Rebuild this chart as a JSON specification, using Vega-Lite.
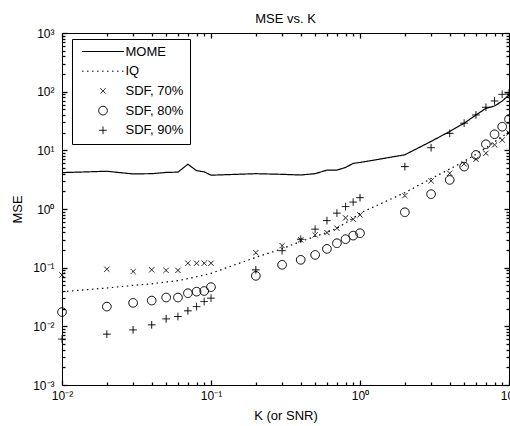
{
  "$schema": "https://vega.github.io/schema/vega-lite/v6.json",
  "width": 447,
  "height": 352,
  "autosize": {"type": "none"},
  "padding": {"left": 62, "top": 33, "right": 1, "bottom": 41},
  "background": "white",
  "title": {"text": "MSE vs. K", "fontSize": 13, "fontWeight": "normal", "font": "Liberation Sans", "color": "black", "offset": 1},
  "data": {"values": [
    {"K":0.01,"MSE":4.17,"series":"MOME"},{"K":0.02,"MSE":4.4,"series":"MOME"},{"K":0.03,"MSE":3.96,"series":"MOME"},{"K":0.04,"MSE":4.0,"series":"MOME"},{"K":0.05,"MSE":4.2,"series":"MOME"},{"K":0.06,"MSE":4.25,"series":"MOME"},{"K":0.07,"MSE":5.8,"series":"MOME"},{"K":0.08,"MSE":4.5,"series":"MOME"},{"K":0.09,"MSE":4.3,"series":"MOME"},{"K":0.1,"MSE":3.77,"series":"MOME"},
    {"K":0.2,"MSE":4.0,"series":"MOME"},{"K":0.3,"MSE":3.9,"series":"MOME"},{"K":0.4,"MSE":3.8,"series":"MOME"},{"K":0.5,"MSE":4.0,"series":"MOME"},{"K":0.6,"MSE":4.6,"series":"MOME"},{"K":0.7,"MSE":4.6,"series":"MOME"},{"K":0.8,"MSE":5.1,"series":"MOME"},{"K":0.9,"MSE":6.0,"series":"MOME"},{"K":1,"MSE":6.2,"series":"MOME"},
    {"K":2,"MSE":8.4,"series":"MOME"},{"K":3,"MSE":14.2,"series":"MOME"},{"K":4,"MSE":21,"series":"MOME"},{"K":5,"MSE":29,"series":"MOME"},{"K":6,"MSE":40,"series":"MOME"},{"K":7,"MSE":52,"series":"MOME"},{"K":8,"MSE":57,"series":"MOME"},{"K":9,"MSE":69,"series":"MOME"},{"K":10,"MSE":88,"series":"MOME"},

    {"K":0.01,"MSE":0.039,"series":"IQ"},{"K":0.02,"MSE":0.045,"series":"IQ"},{"K":0.03,"MSE":0.05,"series":"IQ"},{"K":0.04,"MSE":0.053,"series":"IQ"},{"K":0.05,"MSE":0.057,"series":"IQ"},{"K":0.06,"MSE":0.06,"series":"IQ"},{"K":0.07,"MSE":0.065,"series":"IQ"},{"K":0.08,"MSE":0.07,"series":"IQ"},{"K":0.09,"MSE":0.075,"series":"IQ"},{"K":0.1,"MSE":0.08,"series":"IQ"},
    {"K":0.2,"MSE":0.15,"series":"IQ"},{"K":0.3,"MSE":0.21,"series":"IQ"},{"K":0.4,"MSE":0.28,"series":"IQ"},{"K":0.5,"MSE":0.34,"series":"IQ"},{"K":0.6,"MSE":0.4,"series":"IQ"},{"K":0.7,"MSE":0.47,"series":"IQ"},{"K":0.8,"MSE":0.58,"series":"IQ"},{"K":0.9,"MSE":0.7,"series":"IQ"},{"K":1,"MSE":0.85,"series":"IQ"},
    {"K":2,"MSE":1.9,"series":"IQ"},{"K":3,"MSE":3.3,"series":"IQ"},{"K":4,"MSE":4.8,"series":"IQ"},{"K":5,"MSE":6.5,"series":"IQ"},{"K":6,"MSE":8.5,"series":"IQ"},{"K":7,"MSE":11,"series":"IQ"},{"K":8,"MSE":14,"series":"IQ"},{"K":9,"MSE":17,"series":"IQ"},{"K":10,"MSE":21,"series":"IQ"},

    {"K":0.01,"MSE":0.075,"series":"SDF, 70%"},{"K":0.02,"MSE":0.094,"series":"SDF, 70%"},{"K":0.03,"MSE":0.086,"series":"SDF, 70%"},{"K":0.04,"MSE":0.092,"series":"SDF, 70%"},{"K":0.05,"MSE":0.09,"series":"SDF, 70%"},{"K":0.06,"MSE":0.09,"series":"SDF, 70%"},{"K":0.07,"MSE":0.119,"series":"SDF, 70%"},{"K":0.08,"MSE":0.119,"series":"SDF, 70%"},{"K":0.09,"MSE":0.119,"series":"SDF, 70%"},{"K":0.1,"MSE":0.119,"series":"SDF, 70%"},
    {"K":0.2,"MSE":0.18,"series":"SDF, 70%"},{"K":0.3,"MSE":0.238,"series":"SDF, 70%"},{"K":0.4,"MSE":0.298,"series":"SDF, 70%"},{"K":0.5,"MSE":0.362,"series":"SDF, 70%"},{"K":0.6,"MSE":0.396,"series":"SDF, 70%"},{"K":0.7,"MSE":0.471,"series":"SDF, 70%"},{"K":0.8,"MSE":0.705,"series":"SDF, 70%"},{"K":0.9,"MSE":0.67,"series":"SDF, 70%"},{"K":1,"MSE":0.794,"series":"SDF, 70%"},
    {"K":2,"MSE":1.69,"series":"SDF, 70%"},{"K":3,"MSE":3.01,"series":"SDF, 70%"},{"K":4,"MSE":4.07,"series":"SDF, 70%"},{"K":5,"MSE":5.87,"series":"SDF, 70%"},{"K":6,"MSE":7.05,"series":"SDF, 70%"},{"K":7,"MSE":8.9,"series":"SDF, 70%"},{"K":8,"MSE":12.4,"series":"SDF, 70%"},{"K":9,"MSE":15.0,"series":"SDF, 70%"},{"K":10,"MSE":19.8,"series":"SDF, 70%"},

    {"K":0.01,"MSE":0.0175,"series":"SDF, 80%"},{"K":0.02,"MSE":0.0217,"series":"SDF, 80%"},{"K":0.03,"MSE":0.0251,"series":"SDF, 80%"},{"K":0.04,"MSE":0.0275,"series":"SDF, 80%"},{"K":0.05,"MSE":0.031,"series":"SDF, 80%"},{"K":0.06,"MSE":0.031,"series":"SDF, 80%"},{"K":0.07,"MSE":0.0367,"series":"SDF, 80%"},{"K":0.08,"MSE":0.039,"series":"SDF, 80%"},{"K":0.09,"MSE":0.04,"series":"SDF, 80%"},{"K":0.1,"MSE":0.0466,"series":"SDF, 80%"},
    {"K":0.2,"MSE":0.0725,"series":"SDF, 80%"},{"K":0.3,"MSE":0.112,"series":"SDF, 80%"},{"K":0.4,"MSE":0.136,"series":"SDF, 80%"},{"K":0.5,"MSE":0.165,"series":"SDF, 80%"},{"K":0.6,"MSE":0.209,"series":"SDF, 80%"},{"K":0.7,"MSE":0.261,"series":"SDF, 80%"},{"K":0.8,"MSE":0.306,"series":"SDF, 80%"},{"K":0.9,"MSE":0.352,"series":"SDF, 80%"},{"K":1,"MSE":0.387,"series":"SDF, 80%"},
    {"K":2,"MSE":0.88,"series":"SDF, 80%"},{"K":3,"MSE":1.79,"series":"SDF, 80%"},{"K":4,"MSE":3.13,"series":"SDF, 80%"},{"K":5,"MSE":5.28,"series":"SDF, 80%"},{"K":6,"MSE":8.35,"series":"SDF, 80%"},{"K":7,"MSE":12.7,"series":"SDF, 80%"},{"K":8,"MSE":18.8,"series":"SDF, 80%"},{"K":9,"MSE":25.3,"series":"SDF, 80%"},{"K":10,"MSE":33.9,"series":"SDF, 80%"},

    {"K":0.01,"MSE":0.00605,"series":"SDF, 90%"},{"K":0.02,"MSE":0.00736,"series":"SDF, 90%"},{"K":0.03,"MSE":0.0087,"series":"SDF, 90%"},{"K":0.04,"MSE":0.0106,"series":"SDF, 90%"},{"K":0.05,"MSE":0.0134,"series":"SDF, 90%"},{"K":0.06,"MSE":0.0147,"series":"SDF, 90%"},{"K":0.07,"MSE":0.0184,"series":"SDF, 90%"},{"K":0.08,"MSE":0.0217,"series":"SDF, 90%"},{"K":0.09,"MSE":0.0265,"series":"SDF, 90%"},{"K":0.1,"MSE":0.0302,"series":"SDF, 90%"},
    {"K":0.2,"MSE":0.0918,"series":"SDF, 90%"},{"K":0.3,"MSE":0.195,"series":"SDF, 90%"},{"K":0.4,"MSE":0.305,"series":"SDF, 90%"},{"K":0.5,"MSE":0.453,"series":"SDF, 90%"},{"K":0.6,"MSE":0.634,"series":"SDF, 90%"},{"K":0.7,"MSE":0.85,"series":"SDF, 90%"},{"K":0.8,"MSE":1.1,"series":"SDF, 90%"},{"K":0.9,"MSE":1.31,"series":"SDF, 90%"},{"K":1,"MSE":1.56,"series":"SDF, 90%"},
    {"K":2,"MSE":5.28,"series":"SDF, 90%"},{"K":3,"MSE":11.1,"series":"SDF, 90%"},{"K":4,"MSE":19.5,"series":"SDF, 90%"},{"K":5,"MSE":29.0,"series":"SDF, 90%"},{"K":6,"MSE":40.1,"series":"SDF, 90%"},{"K":7,"MSE":54.2,"series":"SDF, 90%"},{"K":8,"MSE":69.5,"series":"SDF, 90%"},{"K":9,"MSE":90,"series":"SDF, 90%"},{"K":10,"MSE":95,"series":"SDF, 90%"}
  ]},
  "config": {
    "view": {"stroke": null},
    "font": "Liberation Sans",
    "axis": {"grid": false, "domainColor": "black", "domainWidth": 1, "labelColor": "black", "titleColor": "black", "labelFontSize": 12, "titleFontSize": 13, "titleFontWeight": "normal", "labelOverlap": false, "labelFlush": false, "labelFont": "Liberation Sans", "titleFont": "Liberation Sans"},
    "legend": {"orient": "none", "legendX": 10, "legendY": 6, "padding": 6, "strokeColor": "black", "fillColor": "white", "symbolSize": 64, "symbolStrokeColor": "black", "symbolFillColor": "transparent", "symbolStrokeWidth": 1, "symbolOffset": 18.5, "labelOffset": 16, "labelFontSize": 13, "labelFont": "Liberation Sans", "labelColor": "black", "rowPadding": 5.7, "cornerRadius": 0, "title": null}
  },
  "resolve": {"axis": {"x": "independent", "y": "independent"}},
  "layer": [
    {
      "transform": [{"filter": "datum.series == 'MOME' || datum.series == 'IQ'"}],
      "mark": {"type": "line", "color": "black", "strokeWidth": 1.2},
      "encoding": {
        "x": {"field": "K", "type": "quantitative", "scale": {"type": "log", "domain": [0.01, 10], "nice": false},
          "axis": {"orient": "bottom", "title": "K (or SNR)", "titlePadding": 8, "ticks": false,
            "values": [0.01, 0.1, 1, 10],
            "labelExpr": "datum.value == 0.01 ? '10⁻²' : datum.value == 0.1 ? '10⁻¹' : datum.value == 1 ? '10⁰' : datum.value == 10 ? '10¹' : ''",
            "labelPadding": 5}},
        "y": {"field": "MSE", "type": "quantitative", "scale": {"type": "log", "domain": [0.001, 1000], "nice": false},
          "axis": {"orient": "left", "title": "MSE", "titlePadding": 8, "ticks": false,
            "values": [0.001, 0.01, 0.1, 1, 10, 100, 1000],
            "labelExpr": "datum.value == 0.001 ? '10⁻³' : datum.value == 0.01 ? '10⁻²' : datum.value == 0.1 ? '10⁻¹' : datum.value == 1 ? '10⁰' : datum.value == 10 ? '10¹' : datum.value == 100 ? '10²' : datum.value == 1000 ? '10³' : ''",
            "labelPadding": 8}},
        "strokeDash": {"field": "series", "type": "nominal",
          "scale": {"domain": ["MOME", "IQ", "SDF, 70%", "SDF, 80%", "SDF, 90%"], "range": [[1, 0], [1.5, 3.5], [1, 0], [1, 0], [1, 0]]},
          "legend": {"title": null}}
      }
    },
    {
      "transform": [{"filter": "indexof(datum.series, 'SDF') == 0"}],
      "mark": {"type": "point", "filled": false, "color": "black", "size": 64, "strokeWidth": 1, "opacity": 1},
      "encoding": {
        "x": {"field": "K", "type": "quantitative", "scale": {"type": "log", "domain": [0.01, 10], "nice": false},
          "axis": {"orient": "top", "title": null, "labels": false, "ticks": false, "values": [0.01, 0.1, 1, 10]}},
        "y": {"field": "MSE", "type": "quantitative", "scale": {"type": "log", "domain": [0.001, 1000], "nice": false},
          "axis": {"orient": "right", "title": null, "labels": false, "ticks": false, "values": [0.001, 0.01, 0.1, 1, 10, 100, 1000]}},
        "shape": {"field": "series", "type": "nominal",
          "scale": {"domain": ["MOME", "IQ", "SDF, 70%", "SDF, 80%", "SDF, 90%"],
            "range": ["M-5.25,0L5.25,0", "M-5.25,0L5.25,0", "M-0.65,-0.65L0.65,0.65M-0.65,0.65L0.65,-0.65", "M1.08,0A1.08,1.08,0,1,1,-1.08,0A1.08,1.08,0,1,1,1.08,0", "M-0.95,0L0.95,0M0,-0.95L0,0.95"]},
          "legend": {"title": null}},
        "strokeDash": {"field": "series", "type": "nominal",
          "scale": {"domain": ["MOME", "IQ", "SDF, 70%", "SDF, 80%", "SDF, 90%"], "range": [[1, 0], [1.5, 3.5], [1, 0], [1, 0], [1, 0]]},
          "legend": {"title": null}}
      }
    },
    {
      "mark": {"type": "point", "opacity": 0},
      "encoding": {
        "x": {"field": "K", "type": "quantitative", "scale": {"type": "log", "domain": [0.01, 10], "nice": false},
          "axis": {"orient": "bottom", "title": null, "labels": false, "domain": false, "ticks": true, "tickSize": 5, "offset": -5, "tickColor": "#000000", "tickWidth": 1.3,
            "values": [0.01, 0.1, 1, 10]}},
        "y": {"field": "MSE", "type": "quantitative", "scale": {"type": "log", "domain": [0.001, 1000], "nice": false},
          "axis": {"orient": "left", "title": null, "labels": false, "domain": false, "ticks": true, "tickSize": 5, "offset": -5, "tickColor": "#000000", "tickWidth": 1.3,
            "values": [0.001, 0.01, 0.1, 1, 10, 100, 1000]}}
      }
    },
    {
      "mark": {"type": "point", "opacity": 0},
      "encoding": {
        "x": {"field": "K", "type": "quantitative", "scale": {"type": "log", "domain": [0.01, 10], "nice": false},
          "axis": {"orient": "top", "title": null, "labels": false, "domain": false, "ticks": true, "tickSize": 5, "offset": -5, "tickColor": "#000000", "tickWidth": 1.3,
            "values": [0.01, 0.1, 1, 10]}},
        "y": {"field": "MSE", "type": "quantitative", "scale": {"type": "log", "domain": [0.001, 1000], "nice": false},
          "axis": {"orient": "right", "title": null, "labels": false, "domain": false, "ticks": true, "tickSize": 5, "offset": -5, "tickColor": "#000000", "tickWidth": 1.3,
            "values": [0.001, 0.01, 0.1, 1, 10, 100, 1000]}}
      }
    },
    {
      "mark": {"type": "point", "opacity": 0},
      "encoding": {
        "x": {"field": "K", "type": "quantitative", "scale": {"type": "log", "domain": [0.01, 10], "nice": false},
          "axis": {"orient": "bottom", "title": null, "labels": false, "domain": false, "ticks": true, "tickSize": 3, "offset": -3, "tickColor": "#000000", "tickWidth": 1.3,
            "values": [0.02,0.03,0.04,0.05,0.06,0.07,0.08,0.09,0.2,0.3,0.4,0.5,0.6,0.7,0.8,0.9,2,3,4,5,6,7,8,9]}},
        "y": {"field": "MSE", "type": "quantitative", "scale": {"type": "log", "domain": [0.001, 1000], "nice": false},
          "axis": {"orient": "left", "title": null, "labels": false, "domain": false, "ticks": true, "tickSize": 3, "offset": -3, "tickColor": "#000000", "tickWidth": 1.3,
            "values": [0.002,0.003,0.004,0.005,0.006,0.007,0.008,0.009,0.02,0.03,0.04,0.05,0.06,0.07,0.08,0.09,0.2,0.3,0.4,0.5,0.6,0.7,0.8,0.9,2,3,4,5,6,7,8,9,20,30,40,50,60,70,80,90,200,300,400,500,600,700,800,900]}}
      }
    },
    {
      "mark": {"type": "point", "opacity": 0},
      "encoding": {
        "x": {"field": "K", "type": "quantitative", "scale": {"type": "log", "domain": [0.01, 10], "nice": false},
          "axis": {"orient": "top", "title": null, "labels": false, "domain": false, "ticks": true, "tickSize": 3, "offset": -3, "tickColor": "#000000", "tickWidth": 1.3,
            "values": [0.02,0.03,0.04,0.05,0.06,0.07,0.08,0.09,0.2,0.3,0.4,0.5,0.6,0.7,0.8,0.9,2,3,4,5,6,7,8,9]}},
        "y": {"field": "MSE", "type": "quantitative", "scale": {"type": "log", "domain": [0.001, 1000], "nice": false},
          "axis": {"orient": "right", "title": null, "labels": false, "domain": false, "ticks": true, "tickSize": 3, "offset": -3, "tickColor": "#000000", "tickWidth": 1.3,
            "values": [0.002,0.003,0.004,0.005,0.006,0.007,0.008,0.009,0.02,0.03,0.04,0.05,0.06,0.07,0.08,0.09,0.2,0.3,0.4,0.5,0.6,0.7,0.8,0.9,2,3,4,5,6,7,8,9,20,30,40,50,60,70,80,90,200,300,400,500,600,700,800,900]}}
      }
    }
  ]
}
